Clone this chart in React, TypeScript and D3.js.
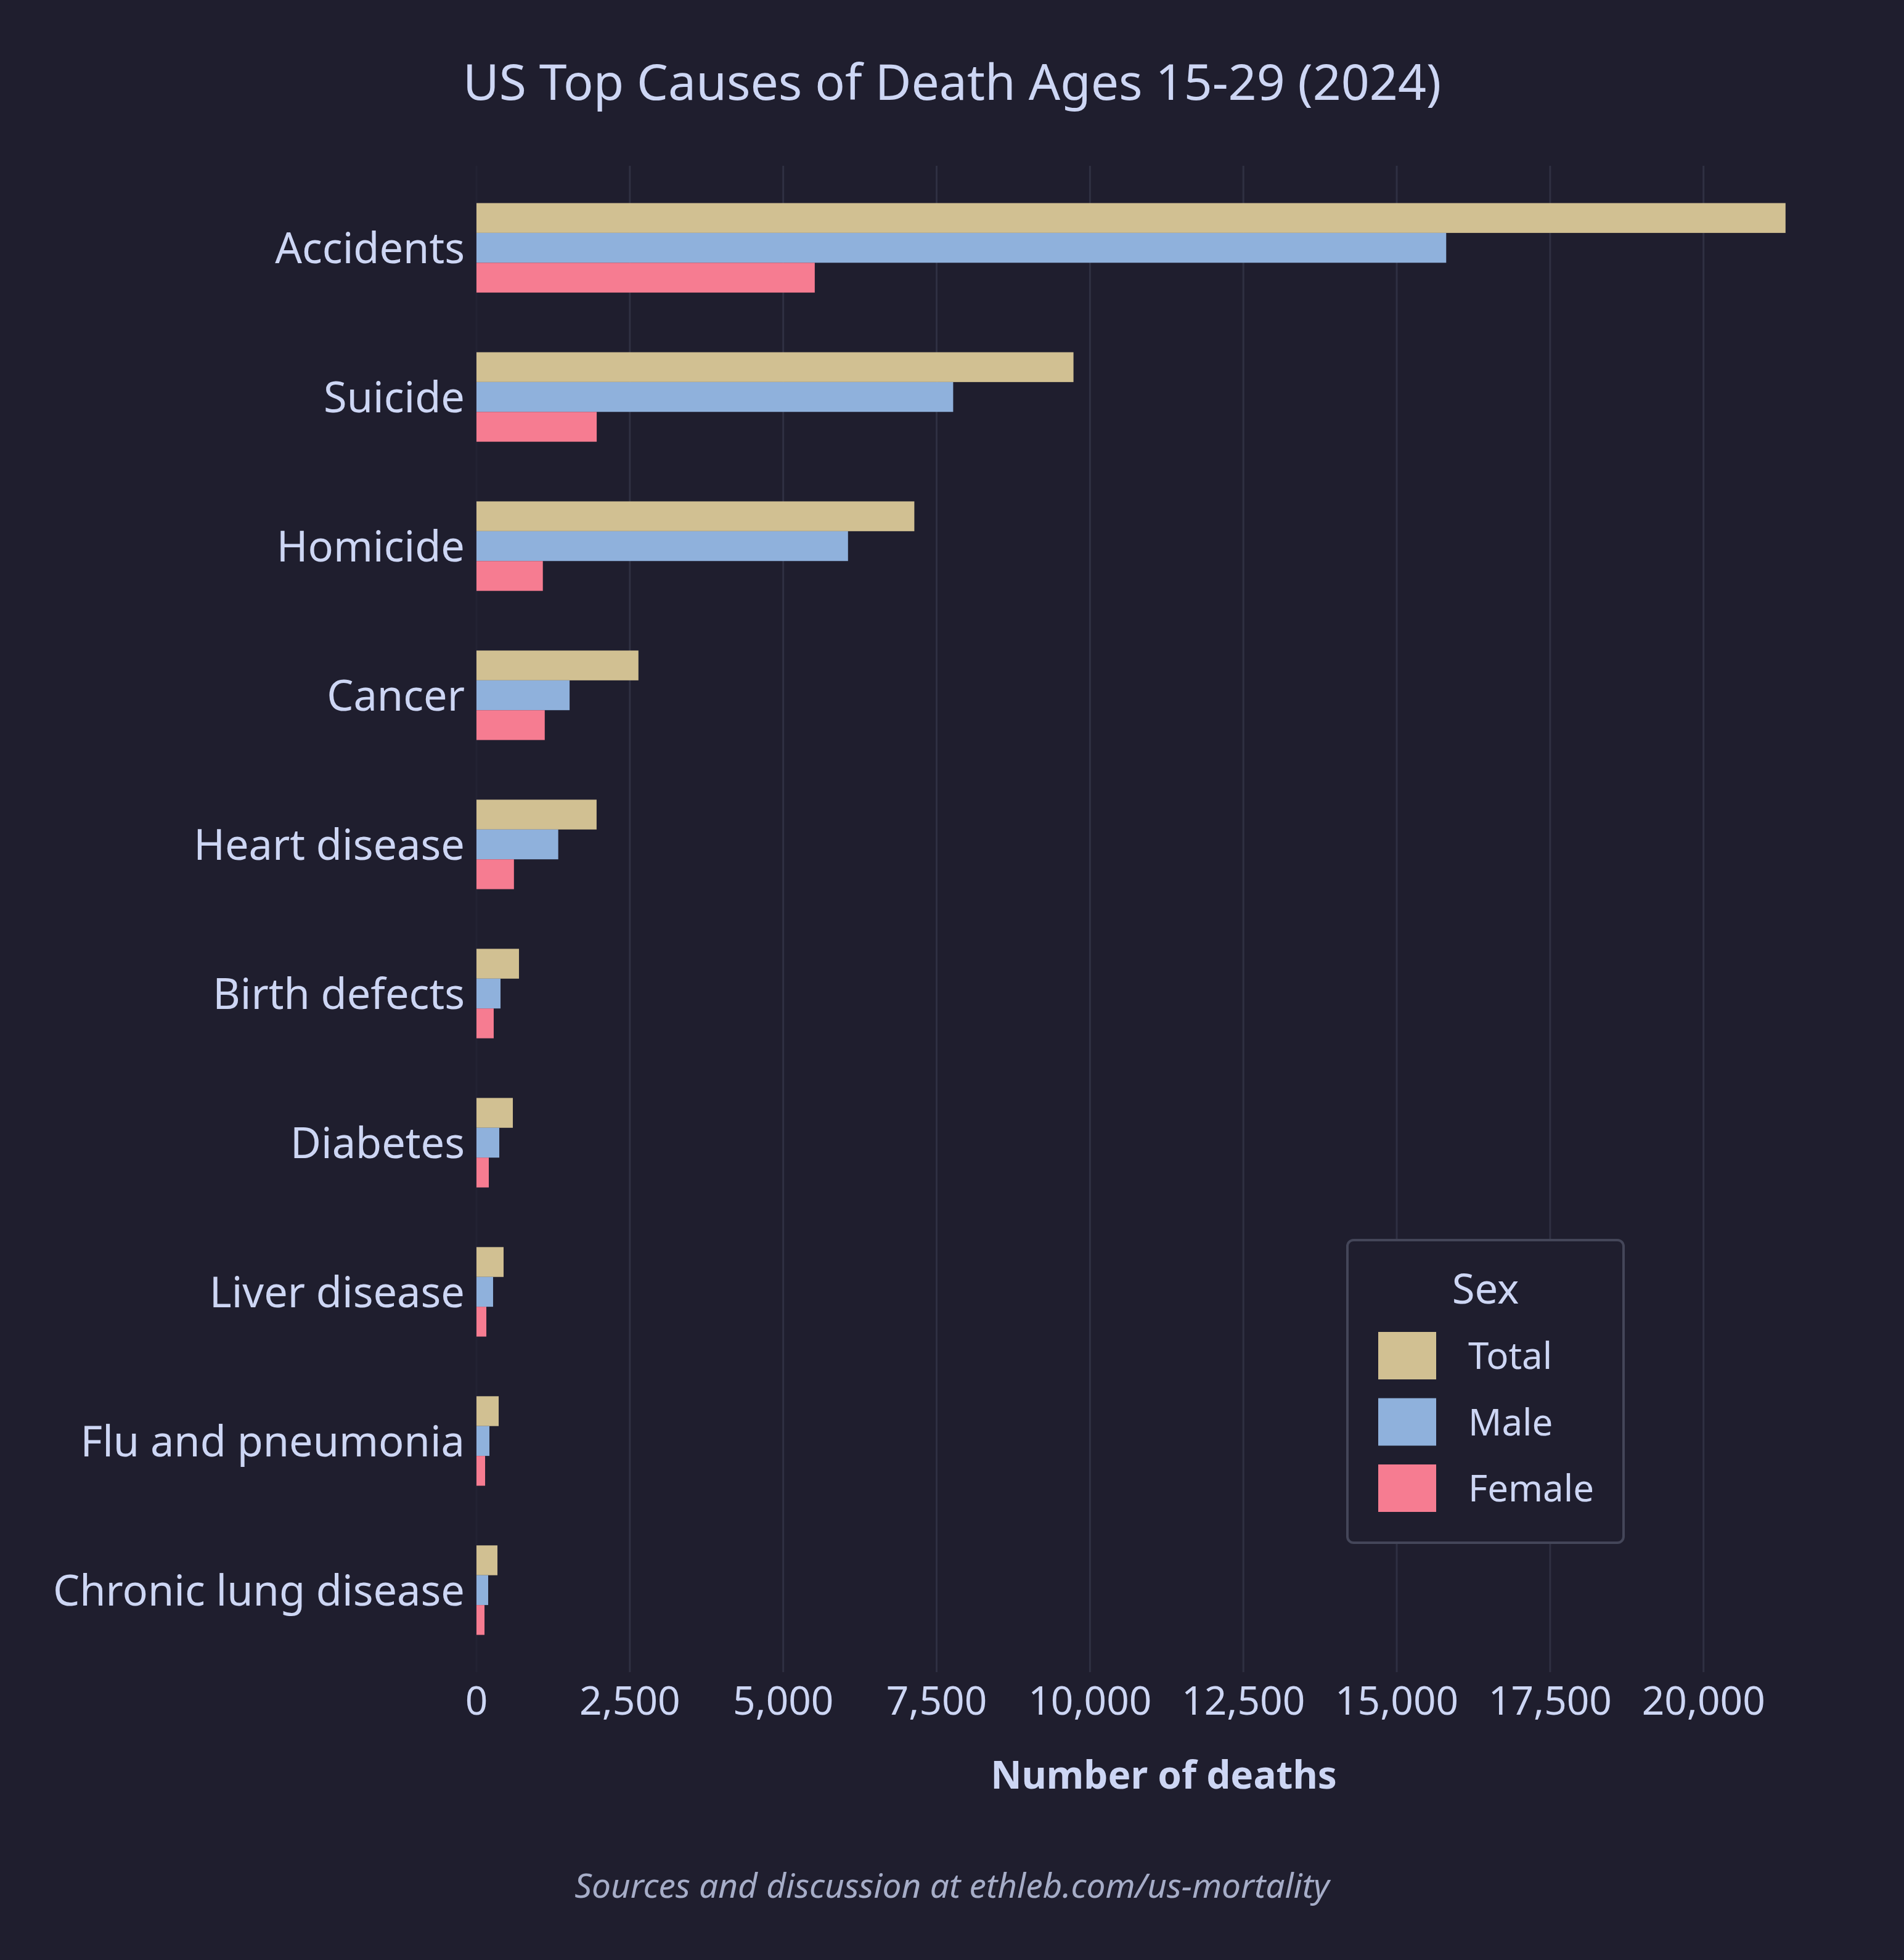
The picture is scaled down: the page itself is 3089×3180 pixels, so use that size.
import React, { useEffect } from "react";
import * as d3 from "d3";

const categories = [
  "Accidents",
  "Suicide",
  "Homicide",
  "Cancer",
  "Heart disease",
  "Birth defects",
  "Diabetes",
  "Liver disease",
  "Flu and pneumonia",
  "Chronic lung disease",
];
const seriesNames = ["Total", "Male", "Female"];
const totalValues = [21337, 9731, 7137, 2640, 1958, 693, 593, 442, 362, 342];
const maleValues = [15806, 7770, 6056, 1518, 1333, 392, 372, 271, 211, 191];
const femaleValues = [5514, 1960, 1082, 1113, 611, 281, 201, 161, 141, 131];
const xTicks = [0, 2500, 5000, 7500, 10000, 12500, 15000, 17500, 20000];

const colors = ["#d1c092", "#8fb1dc", "#f67c91"];
const BG = "#1f1e2e";
const TEXT = "#cdd6f4";
const GRID = "#2f3042";
const FONT = "'Noto Sans', 'Open Sans', sans-serif";

const W = 3089;
const H = 3180;

export default function App() {
  useEffect(() => {
    document.body.style.margin = "0";
    document.body.style.background = BG;
  }, []);

  const seriesValues = [totalValues, maleValues, femaleValues];
  const xMax = d3.max(totalValues)! * 1.05;
  const x = d3.scaleLinear().domain([0, xMax]).range([773, 3003]);
  const y = d3
    .scaleBand<string>()
    .domain(categories)
    .range([269, 2713])
    .paddingInner(0.4)
    .paddingOuter(0.25);
  const sub = d3
    .scaleBand<string>()
    .domain(seriesNames)
    .range([0, y.bandwidth()]);
  const fmt = d3.format(",");

  const legendX = 2186;
  const legendY = 2012;
  const legendW = 448;
  const legendH = 491;

  return (
    <svg
      width={W}
      height={H}
      style={{ display: "block", background: BG }}
      fontFamily={FONT}
    >
      <rect x={0} y={0} width={W} height={H} fill={BG} />
      <text
        x={W / 2}
        y={162}
        textAnchor="middle"
        fill={TEXT}
        fontSize={80.5}
      >
        US Top Causes of Death Ages 15-29 (2024)
      </text>

      {xTicks.map((t) => (
        <line
          key={"g" + t}
          x1={x(t)}
          x2={x(t)}
          y1={269}
          y2={2713}
          stroke={t === 0 ? "#232233" : GRID}
          strokeWidth={3}
        />
      ))}

      {categories.map((c, i) => (
        <g key={c} transform={`translate(0,${y(c)})`}>
          {seriesNames.map((s, j) => (
            <rect
              key={s}
              x={x(0)}
              y={sub(s)}
              width={x(seriesValues[j][i]) - x(0)}
              height={sub.bandwidth()}
              fill={colors[j]}
            />
          ))}
          <text
            x={754}
            y={y.bandwidth() / 2 + 25}
            textAnchor="end"
            fill={TEXT}
            fontSize={68.5}
          >
            {c}
          </text>
        </g>
      ))}

      {xTicks.map((t) => (
        <text
          key={"t" + t}
          x={x(t)}
          y={2782}
          textAnchor="middle"
          fill={TEXT}
          fontSize={64}
        >
          {fmt(t)}
        </text>
      ))}

      <text
        x={(x(0) + x(xMax)) / 2}
        y={2902}
        textAnchor="middle"
        fill={TEXT}
        fontSize={62}
        fontWeight="bold"
      >
        Number of deaths
      </text>

      <g>
        <rect
          x={legendX}
          y={legendY}
          width={legendW}
          height={legendH}
          rx={10}
          fill={BG}
          stroke="#444659"
          strokeWidth={4}
        />
        <text
          x={legendX + legendW / 2}
          y={2115}
          textAnchor="middle"
          fill={TEXT}
          fontSize={67}
        >
          Sex
        </text>
        {seriesNames.map((s, j) => (
          <g key={s} transform={`translate(2236,${2161 + j * 107.5})`}>
            <rect x={0} y={0} width={94} height={77} fill={colors[j]} />
            <text x={146} y={60} fill={TEXT} fontSize={60}>
              {s}
            </text>
          </g>
        ))}
      </g>

      <text
        x={W / 2}
        y={3079}
        textAnchor="middle"
        fill="#a6adc8"
        fontSize={55}
        fontStyle="italic"
      >
        Sources and discussion at ethleb.com/us-mortality
      </text>
    </svg>
  );
}
